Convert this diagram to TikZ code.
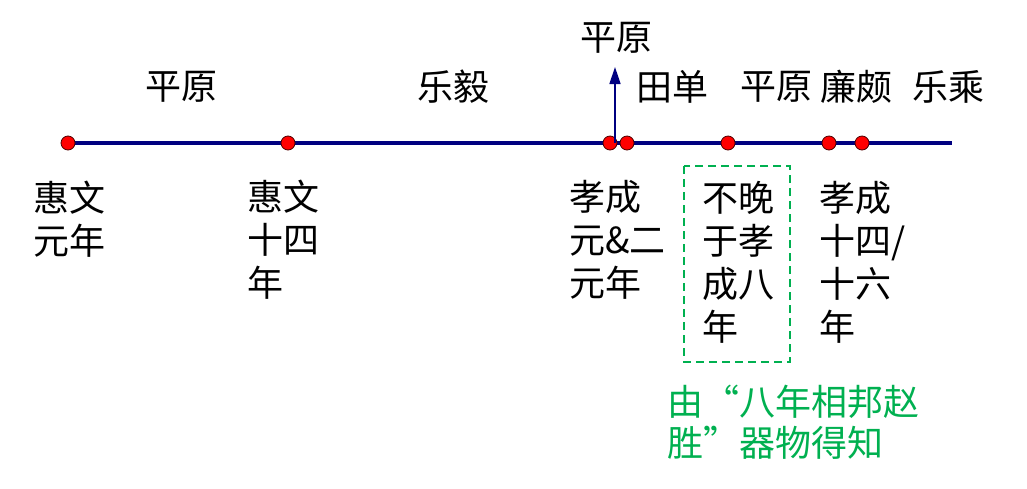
\documentclass[tikz,border=0pt]{standalone}
\usepackage{fontspec}
\newfontfamily\cjk{Noto Sans CJK SC}
\usetikzlibrary{arrows.meta}
\definecolor{axisblue}{RGB}{0,0,128}
\definecolor{notegreen}{RGB}{0,176,80}
\tikzset{
  axis/.style={draw=axisblue, line width=4pt},
  event/.style={circle, fill=red, draw=black!70!red, line width=0.8pt, minimum size=14pt, inner sep=0pt},
  who/.style={font=\fontsize{36}{43}\selectfont\cjk, inner sep=0pt},
  when/.style={font=\fontsize{36}{43}\selectfont\cjk, inner sep=0pt, anchor=west, align=left},
  note/.style={font=\fontsize{36}{41}\selectfont\cjk, text=notegreen, inner sep=0pt, anchor=west, align=left},
  frame/.style={draw=notegreen, line width=2.2pt, dash pattern=on 8pt off 5pt},
}
\begin{document}
\begin{tikzpicture}[x=1pt, y=-1pt]
\useasboundingbox (0,0) rectangle (1027,488);

% time axis
\coordinate (start) at (68,143);
\coordinate (end) at (952,143);
\draw[axis] (start) -- (end);

% events on the axis
\node[event] (e1) at (68,143) {};
\node[event] (e2) at (288,143) {};
\node[event] (e3) at (610,143) {};
\node[event] (e4) at (627,143) {};
\node[event] (e5) at (728,143) {};
\node[event] (e6) at (829,143) {};
\node[event] (e7) at (862,143) {};

% upward pointer
\coordinate (pbase) at (615,143);
\coordinate (ptip) at (615,67);
\draw[axisblue, line width=1.5pt, -{Triangle[length=17pt, width=11pt]}] (pbase) -- (ptip);

% people above the axis
\node[who] (p1) at (181,87) {平原};
\node[who] (p2) at (453,87) {乐毅};
\node[who] (p3) at (616,38) {平原};
\node[who] (p4) at (672,87) {田单};
\node[who] (p5) at (776,87) {平原};
\node[who] (p6) at (856,87) {廉颇};
\node[who] (p7) at (948,87) {乐乘};

% dates below the axis
\node[when] (d1) at (33,219) {惠文\\元年};
\node[when] (d2) at (247,240) {惠文\\十四\\年};
\node[when] (d3) at (569,240) {孝成\\元\&二\\元年};
\node[when] (d4) at (702,262) {不晚\\于孝\\成八\\年};
\node[when] (d5) at (819,262) {孝成\\十四/\\十六\\年};

% dashed frame round the inferred date
\coordinate (f1) at (684,166);
\coordinate (f2) at (790,362);
\draw[frame] (f1) rectangle (f2);

% source note
\node[note] (n) at (667,422) {由“八年相邦赵\\胜”器物得知};
\end{tikzpicture}
\end{document}
